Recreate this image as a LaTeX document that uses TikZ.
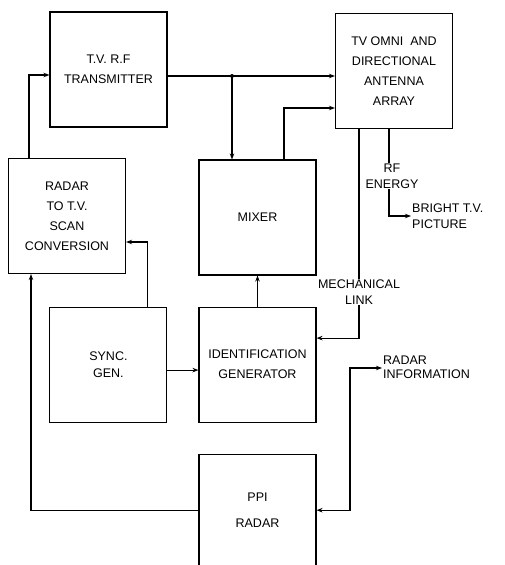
\documentclass[tikz,border=0pt]{standalone}
\usepackage{fontspec}
\setmainfont{Liberation Sans}
\usepackage{tikz}
\usetikzlibrary{arrows.meta, positioning}
\tikzstyle{arrow} = [line width=1.1pt,-{Stealth[length=6pt,width=4.5pt]}]
\tikzstyle{twoway} = [line width=1.1pt,{Stealth[length=6pt,width=4.5pt]}-{Stealth[length=6pt,width=4.5pt]}]

\begin{document}
\begin{tikzpicture}[
    x=1pt, y=-1pt,
    box/.style={
        rectangle,
        minimum width=117pt,
        minimum height=115pt,
        align=center,
        draw=black,
        line width=1.1pt,
        font=\fontsize{12.5}{20}\selectfont
    },
    tag/.style={
        align=center,
        inner sep=1pt,
        font=\fontsize{12.5}{16}\selectfont
    }
]
    \useasboundingbox (0,0) rectangle (504,565);

    \node[box] (trans) at (108.5,69.5)
        {T.V. R.F\\TRANSMITTER};

    \node[box] (ant) at (394,71)
        {TV OMNI\ \ AND\\DIRECTIONAL\\ANTENNA\\ARRAY};

    \node[box] (conv) at (67,216)
        {RADAR\\TO T.V.\\SCAN\\CONVERSION};

    \node[box] (mixer) at (257.5,217.5)
        {MIXER};

    \node[box, below=31pt of mixer]
        (ident)
        {IDENTIFICATION\\GENERATOR};

    \node[box, left=31pt of ident, font=\fontsize{12.5}{17}\selectfont]
        (sync)
        {SYNC.\\GEN.};

    \node[box, below=31pt of ident, minimum height=112pt, font=\fontsize{12.5}{26}\selectfont]
        (ppi)
        {PPI\\RADAR};

    \node[tag, align=left, anchor=west] (pict) at (411,216)
        {BRIGHT T.V.\\PICTURE};

    \node[tag, align=left, anchor=west, font=\fontsize{12.5}{14}\selectfont] (rinfo) at (382,367)
        {RADAR\\INFORMATION};

    \coordinate (bus) at (232,76);
    \coordinate (rturn) at (350,368);

    \draw[arrow] ([xshift=-38pt]conv.north) |- ([yshift=-5.5pt]trans.west);
    \draw[arrow] (trans.east |- bus) -- (ant.west |- bus);
    \fill (bus) circle (2pt);
    \draw[arrow] (bus) -- (bus |- mixer.north);
    \draw[arrow] ([xshift=26.5pt]mixer.north) |- ([yshift=-37pt]ant.west);
    \draw[arrow] ([xshift=-35pt]ant.south) |- ([yshift=26.5pt]ident.east)
        node[tag, fill=white, pos=0.39] {MECHANICAL\\LINK};
    \draw[arrow] ([xshift=-5pt]ant.south) |- (pict.west)
        node[tag, fill=white, pos=0.27, xshift=3pt] {RF\\ENERGY};
    \draw[arrow] (ident.north) -- (ident.north |- mixer.south);
    \draw[arrow] ([xshift=39pt]sync.north) |- ([yshift=-26pt]conv.east);
    \draw[arrow] ([yshift=-5.5pt]sync.east) -- ([yshift=-5.5pt]sync.east -| ident.west);
    \draw[arrow] (ppi.west) -| ([xshift=-36pt]conv.south);
    \draw[twoway] (ppi.east) -| (rturn) -- (rturn -| rinfo.west);
\end{tikzpicture}
\end{document}
